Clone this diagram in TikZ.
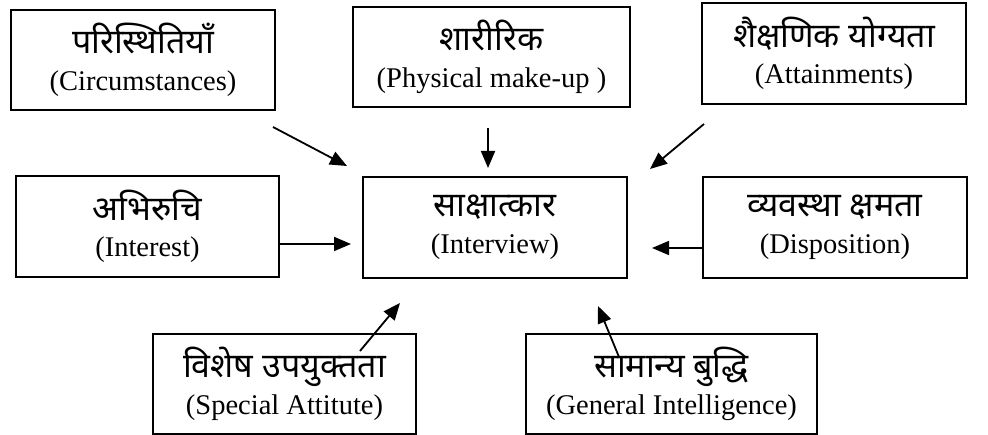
\documentclass[tikz,border=0pt]{standalone}
\usepackage{fontspec}
\setmainfont{Liberation Serif}
\newfontfamily\dev[Script=Devanagari]{Noto Sans}
\usetikzlibrary{arrows.meta}
\tikzset{
  box/.style={draw, line width=2pt, inner sep=0pt, align=center,
    font=\fontsize{28.5}{36.5}\selectfont},
  arr/.style={line width=1.8pt, -{Triangle[length=17pt,width=14pt]}},
}
\newcommand{\hi}[1]{{\dev\fontsize{34}{36.5}\selectfont #1}}
\begin{document}
\begin{tikzpicture}[x=1pt,y=-1pt]
\useasboundingbox (0,0) rectangle (988,435);
\node[box, minimum width=264pt, minimum height=100pt] (A) at (143,60) {\hi{परिस्थितियाँ}\\(Circumstances)};
\node[box, minimum width=277pt, minimum height=100pt] (B) at (491.5,57) {\hi{शारीरिक}\\(Physical make-up )};
\node[box, minimum width=264pt, minimum height=101pt] (C) at (834,53.5) {\hi{शैक्षणिक योग्यता}\\(Attainments)};
\node[box, minimum width=263pt, minimum height=101pt] (D) at (147.5,226.5) {\hi{अभिरुचि}\\(Interest)};
\node[box, minimum width=264pt, minimum height=101pt] (E) at (495,227.5) {\hi{साक्षात्कार}\\(Interview)};
\node[box, minimum width=264pt, minimum height=101pt] (F) at (835,227.5) {\hi{व्यवस्था क्षमता}\\(Disposition)};
\node[box, minimum width=263pt, minimum height=100pt] (G) at (284.5,384) {\hi{विशेष उपयुक्तता}\\(Special Attitute)};
\node[box, minimum width=291pt, minimum height=100pt] (H) at (671.5,384) {\hi{सामान्य बुद्धि}\\(General Intelligence)};
\coordinate (a1) at (273,127); \coordinate (a2) at (347,166);
\coordinate (b1) at (488,128); \coordinate (b2) at (488,168);
\coordinate (c1) at (704,124); \coordinate (c2) at (650,169);
\coordinate (d1) at (279,244); \coordinate (d2) at (351,244);
\coordinate (f1) at (703,248); \coordinate (f2) at (652,248);
\coordinate (g1) at (360,351); \coordinate (g2) at (400,303);
\coordinate (h1) at (619,357); \coordinate (h2) at (598,306);
\draw[arr] (a1) -- (a2);
\draw[arr] (b1) -- (b2);
\draw[arr] (c1) -- (c2);
\draw[arr] (d1) -- (d2);
\draw[arr] (f1) -- (f2);
\draw[arr] (g1) -- (g2);
\draw[arr] (h1) -- (h2);
\end{tikzpicture}
\end{document}
